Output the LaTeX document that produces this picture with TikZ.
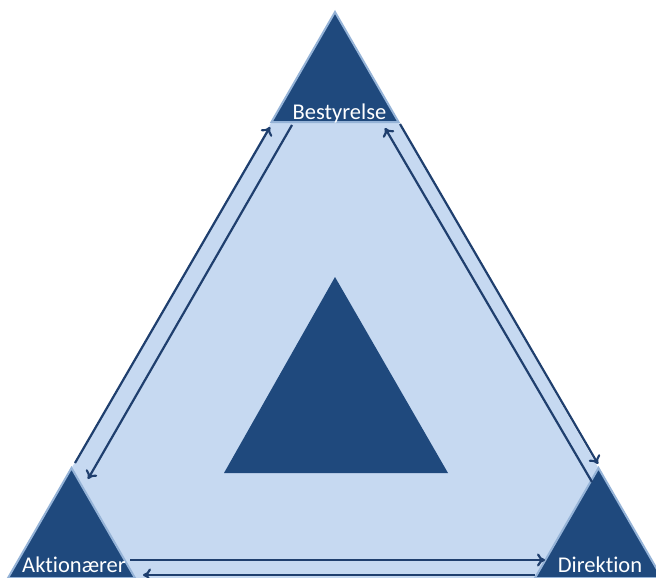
\documentclass[tikz,border=0pt]{standalone}
\usepackage{fontspec}
\setmainfont{Carlito}[Ligatures=NoCommon]
\usetikzlibrary{arrows.meta}
\definecolor{darkb}{HTML}{1F497D}
\definecolor{lightb}{HTML}{C6D9F1}
\definecolor{edgeb}{HTML}{95B3D7}
\definecolor{arrowb}{HTML}{1F3F6E}
\tikzset{
  corner/.style={fill=darkb, draw=edgeb, line width=2pt, line join=miter},
  lbl/.style={text=white, font=\fontsize{22.5}{24}\selectfont, inner sep=0pt, anchor=base},
  flow/.style={draw=arrowb, line width=2.2pt, -{To[length=8pt,width=13pt,line width=2.2pt]}}
}
\begin{document}
\begin{tikzpicture}[x=1pt,y=-1pt]
\useasboundingbox (0,0) rectangle (656,578);
\clip (0,0) rectangle (656,578);
% big light triangle
\fill[lightb] (335,12) -- (8,578) -- (662,578) -- cycle;
% center triangle
\fill[darkb] (335,277) -- (224,473) -- (448,473) -- cycle;
% corner triangles
\draw[corner] (335,12) -- (271.5,122) -- (398.5,122) -- cycle;
\draw[corner] (71.5,468) -- (8,578) -- (135,578) -- cycle;
\draw[corner] (598.5,468) -- (535,578) -- (662,578) -- cycle;
% labels
\node[lbl] (b) at (339.5,119) {Bestyrelse};
\node[lbl] (a) at (74,572) {Aktionærer};
\node[lbl] (d) at (600,572) {Direktion};
% arrow end points
\coordinate (a1s) at (75,463);  \coordinate (a1e) at (270,127);
\coordinate (a2s) at (292,125); \coordinate (a2e) at (88,479);
\coordinate (a3s) at (592,482); \coordinate (a3e) at (385,128);
\coordinate (a4s) at (400,124); \coordinate (a4e) at (598,464);
\coordinate (a5s) at (130,560); \coordinate (a5e) at (545,560);
\coordinate (a6s) at (535,575); \coordinate (a6e) at (143,575);
\draw[flow] (a1s) -- (a1e);
\draw[flow] (a2s) -- (a2e);
\draw[flow] (a3s) -- (a3e);
\draw[flow] (a4s) -- (a4e);
\draw[flow] (a5s) -- (a5e);
\draw[flow] (a6s) -- (a6e);
\end{tikzpicture}
\end{document}
